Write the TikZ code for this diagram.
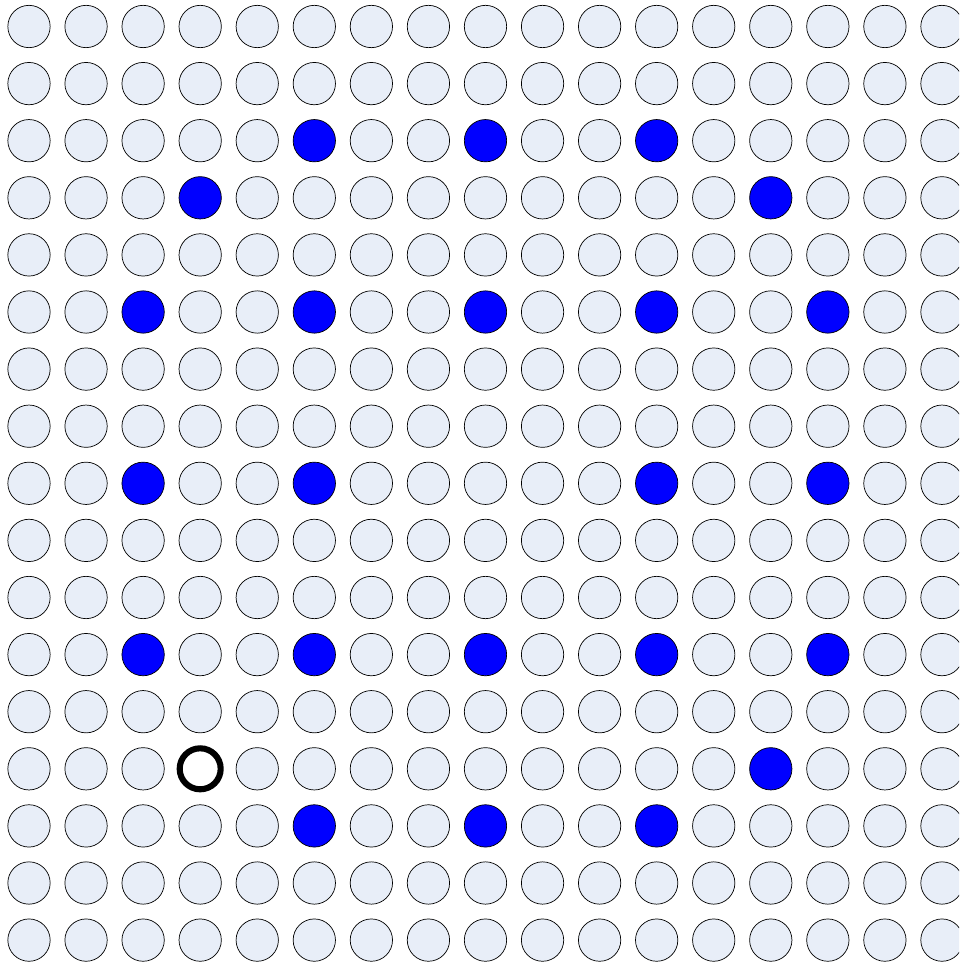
\documentclass[tikz,border=0pt]{standalone}
\usepackage{tikz}

\definecolor{dotfill}{HTML}{E8EEF8}

\tikzset{
  dot/.style={circle, draw=black, line width=0.6pt, fill=dotfill, inner sep=0pt, minimum size=1.27cm},
  bluedot/.style={fill=blue},
  holedot/.style={fill=white, line width=5.2pt, minimum size=1.23cm},
  % marked cells (row-col)
  cell 2-5/.style={bluedot}, cell 2-8/.style={bluedot}, cell 2-11/.style={bluedot},
  cell 3-3/.style={bluedot}, cell 3-13/.style={bluedot},
  cell 5-2/.style={bluedot}, cell 5-5/.style={bluedot}, cell 5-8/.style={bluedot}, cell 5-11/.style={bluedot}, cell 5-14/.style={bluedot},
  cell 8-2/.style={bluedot}, cell 8-5/.style={bluedot}, cell 8-11/.style={bluedot}, cell 8-14/.style={bluedot},
  cell 11-2/.style={bluedot}, cell 11-5/.style={bluedot}, cell 11-8/.style={bluedot}, cell 11-11/.style={bluedot}, cell 11-14/.style={bluedot},
  cell 13-3/.style={holedot}, cell 13-13/.style={bluedot},
  cell 14-5/.style={bluedot}, cell 14-8/.style={bluedot}, cell 14-11/.style={bluedot}
}

\begin{document}
\begin{tikzpicture}[x=0.03cm, y=-0.03cm]

\useasboundingbox (0,0) rectangle (959,965);
\clip (0,0) rectangle (959,965);

\foreach \r in {0,...,16} {
  \foreach \c in {0,...,16} {
    \node[dot, cell \r-\c/.try] (d-\r-\c) at ({29+57.06*\c}, {26.5+57.1*\r}) {};
  }
}

\end{tikzpicture}
\end{document}
